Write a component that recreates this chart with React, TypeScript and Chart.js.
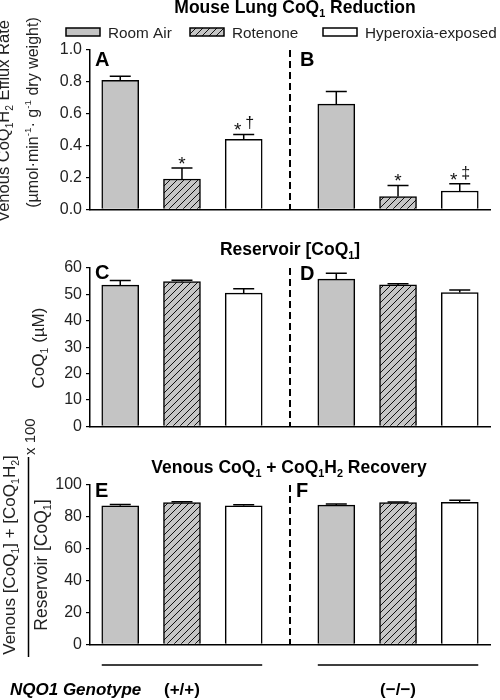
import React, { useEffect, useRef } from "react";
import { Chart, registerables } from "chart.js";

Chart.register(...registerables);

// ---------------- DATA ----------------
const treatments = ["Room Air", "Rotenone", "Hyperoxia-exposed"];
const genotypes = ["(+/+)", "(\u2212/\u2212)"];
const genotypeTitle = "NQO1 Genotype";

// Panels A/B: venous CoQ1H2 efflux rate, [ (+/+), (-/-) ]
const effluxRoomAir = [0.81, 0.66];
const effluxRoomAirErr = [0.025, 0.08];
const effluxRotenone = [0.19, 0.08];
const effluxRotenoneErr = [0.07, 0.07];
const effluxHyperoxia = [0.44, 0.115];
const effluxHyperoxiaErr = [0.03, 0.045];
const effluxRoomAirMarks = ["", ""];
const effluxRotenoneMarks = ["*", "*"];
const effluxHyperoxiaMarks = ["*\u2020", "*\u2021"];
const effluxAxis = [0, 1, 0.2];

// Panels C/D: reservoir [CoQ1] (uM)
const reservoirRoomAir = [53.5, 55.8];
const reservoirRoomAirErr = [1.8, 2.2];
const reservoirRotenone = [54.9, 53.6];
const reservoirRotenoneErr = [0.5, 0.4];
const reservoirHyperoxia = [50.5, 50.7];
const reservoirHyperoxiaErr = [1.6, 1.0];
const reservoirAxis = [0, 60, 10];

// Panels E/F: venous CoQ1 + CoQ1H2 recovery (%)
const recoveryRoomAir = [87.0, 87.4];
const recoveryRoomAirErr = [0.8, 0.7];
const recoveryRotenone = [88.9, 88.9];
const recoveryRotenoneErr = [0.6, 0.4];
const recoveryHyperoxia = [87.0, 89.1];
const recoveryHyperoxiaErr = [0.6, 1.3];
const recoveryAxis = [0, 100, 20];

const noMarks = ["", ""];

// ---------------- HELPERS ----------------
const FAMILY = '"Liberation Sans", Arial, Helvetica, sans-serif';
const GROUP_SHIFT = 3.5;
const DIVIDER = 2.75;
const BAR_W = 37;

type Seg = { t: string; s?: "sub" | "sup" };

function drawRich(
  ctx: CanvasRenderingContext2D,
  segs: Seg[],
  x: number,
  y: number,
  size: number,
  opts: { weight?: string; italic?: boolean; align?: "left" | "center" | "right"; rotate?: boolean; color?: string } = {}
) {
  const pre = `${opts.italic ? "italic " : ""}${opts.weight || "normal"}`;
  const fontFor = (sg: Seg) => `${pre} ${sg.s ? size * 0.62 : size}px ${FAMILY}`;
  ctx.save();
  ctx.translate(x, y);
  if (opts.rotate) ctx.rotate(-Math.PI / 2);
  let w = 0;
  for (const sg of segs) {
    ctx.font = fontFor(sg);
    w += ctx.measureText(sg.t).width;
  }
  const align = opts.align || "center";
  let cx = align === "center" ? -w / 2 : align === "right" ? -w : 0;
  ctx.fillStyle = opts.color || "#111";
  ctx.textAlign = "left";
  ctx.textBaseline = "alphabetic";
  for (const sg of segs) {
    ctx.font = fontFor(sg);
    const dy = sg.s === "sub" ? size * 0.24 : sg.s === "sup" ? -size * 0.42 : 0;
    ctx.fillText(sg.t, cx, dy);
    cx += ctx.measureText(sg.t).width;
  }
  ctx.restore();
}

function makeHatch(): CanvasPattern | string {
  const c = document.createElement("canvas");
  c.width = 7;
  c.height = 7;
  const g = c.getContext("2d");
  if (!g) return "#c4c4c4";
  g.fillStyle = "#c6c6c6";
  g.fillRect(0, 0, 7, 7);
  g.strokeStyle = "#111";
  g.lineWidth = 1;
  g.beginPath();
  g.moveTo(-1, 8);
  g.lineTo(8, -1);
  g.moveTo(-1, 1);
  g.lineTo(1, -1);
  g.moveTo(6, 8);
  g.lineTo(8, 6);
  g.stroke();
  return g.createPattern(c, "repeat") || "#c4c4c4";
}

type PanelSpec = {
  values: number[][];
  errors: number[][];
  marks: string[][];
  axis: number[];
  decimals: number;
  letters: string[];
  letterPos: number[][];
  height: number;
  padTop: number;
  padBottom: number;
  extra: (chart: any) => void;
};

const errorBarPlugin = {
  id: "errorBars",
  afterDatasetsDraw(chart: any) {
    const ctx: CanvasRenderingContext2D = chart.ctx;
    const ys = chart.scales.y;
    chart.data.datasets.forEach((ds: any, di: number) => {
      const meta = chart.getDatasetMeta(di);
      meta.data.forEach((bar: any, i: number) => {
        const v = ds.data[i].y;
        const e = ds.errors[i];
        const yTop = ys.getPixelForValue(v);
        const yCap = ys.getPixelForValue(v + e);
        ctx.save();
        ctx.strokeStyle = "#000";
        ctx.lineWidth = 1.5;
        ctx.beginPath();
        ctx.moveTo(bar.x, yTop);
        ctx.lineTo(bar.x, yCap);
        ctx.moveTo(bar.x - 10.5, yCap);
        ctx.lineTo(bar.x + 10.5, yCap);
        ctx.stroke();
        const mark: string = ds.marks[i] || "";
        if (mark) {
          const chars = Array.from(mark);
          ctx.fillStyle = "#111";
          ctx.textAlign = "center";
          ctx.textBaseline = "alphabetic";
          chars.forEach((ch, k) => {
            const off = chars.length === 1 ? 0 : k === 0 ? -6 : 6;
            if (ch === "*") {
              ctx.font = `normal 19px ${FAMILY}`;
              ctx.fillText(ch, bar.x + off, yCap + 2);
            } else {
              ctx.font = `normal 16px ${FAMILY}`;
              ctx.fillText(ch, bar.x + off, yCap - 6);
            }
          });
        }
        ctx.restore();
      });
    });
  },
};

function buildConfig(p: PanelSpec): any {
  const fills = ["#c4c4c4", makeHatch(), "#ffffff"];
  const datasets = treatments.map((label, t) => ({
    label,
    data: genotypes.map((_, g) => ({ x: g * GROUP_SHIFT + t, y: p.values[t][g] })),
    errors: p.errors[t],
    marks: p.marks[t],
    backgroundColor: fills[t],
    borderColor: "#000",
    borderWidth: 1.5,
    barThickness: BAR_W,
    grouped: false,
  }));
  const panelPlugin = {
    id: "panelDecor",
    afterDraw(chart: any) {
      const ctx: CanvasRenderingContext2D = chart.ctx;
      const xs = chart.scales.x;
      const area = chart.chartArea;
      // dashed divider between genotypes
      ctx.save();
      ctx.strokeStyle = "#000";
      ctx.lineWidth = 2;
      ctx.setLineDash([7, 4]);
      const dx = xs.getPixelForValue(DIVIDER);
      ctx.beginPath();
      ctx.moveTo(dx, area.top);
      ctx.lineTo(dx, area.bottom);
      ctx.stroke();
      ctx.restore();
      // panel letters
      p.letters.forEach((L, i) => {
        drawRich(ctx, [{ t: L }], p.letterPos[i][0], p.letterPos[i][1], 20, {
          weight: "bold",
          align: "left",
          color: "#000",
        });
      });
      p.extra(chart);
    },
  };
  return {
    type: "bar",
    data: { datasets },
    options: {
      animation: false,
      responsive: false,
      events: [],
      layout: { padding: { left: 0, right: 10, top: p.padTop, bottom: p.padBottom } },
      plugins: { legend: { display: false }, tooltip: { enabled: false }, title: { display: false } },
      scales: {
        x: {
          type: "linear",
          min: -0.49,
          max: 5.99,
          offset: false,
          ticks: { display: false },
          grid: { display: false },
          border: { display: true, color: "#000", width: 1.5 },
          afterFit: (s: any) => {
            s.height = 0;
          },
        },
        y: {
          min: p.axis[0],
          max: p.axis[1],
          ticks: {
            stepSize: p.axis[2],
            padding: 4,
            color: "#222",
            font: { size: 16, family: FAMILY },
            callback: (v: any) => Number(v).toFixed(p.decimals),
          },
          grid: { display: true, drawOnChartArea: false, drawTicks: true, tickLength: 4, color: "#000", lineWidth: 1.2 },
          border: { display: true, color: "#000", width: 1.5 },
          afterFit: (s: any) => {
            s.width = 90;
          },
        },
      },
    },
    plugins: [errorBarPlugin, panelPlugin],
  };
}

// ---------------- PANELS ----------------
const panelAB: PanelSpec = {
  values: [effluxRoomAir, effluxRotenone, effluxHyperoxia],
  errors: [effluxRoomAirErr, effluxRotenoneErr, effluxHyperoxiaErr],
  marks: [effluxRoomAirMarks, effluxRotenoneMarks, effluxHyperoxiaMarks],
  axis: effluxAxis,
  decimals: 1,
  letters: ["A", "B"],
  letterPos: [
    [95, 66],
    [300, 66],
  ],
  height: 232,
  padTop: 50,
  padBottom: 22.7,
  extra: (chart: any) => {
    const ctx: CanvasRenderingContext2D = chart.ctx;
    drawRich(ctx, [{ t: "Mouse Lung CoQ" }, { t: "1", s: "sub" }, { t: " Reduction" }], 295, 13, 17.5, {
      weight: "bold",
      color: "#000",
    });
    // legend from datasets
    const boxX = [66, 190, 323];
    chart.data.datasets.forEach((ds: any, i: number) => {
      ctx.save();
      ctx.fillStyle = ds.backgroundColor;
      ctx.fillRect(boxX[i], 28, 34, 8);
      ctx.strokeStyle = "#000";
      ctx.lineWidth = 1.5;
      ctx.strokeRect(boxX[i], 28, 34, 8);
      ctx.restore();
      drawRich(ctx, [{ t: ds.label }], boxX[i] + 42, 37.5, 15.3, { align: "left", color: "#222" });
    });
    drawRich(
      ctx,
      [{ t: "Venous CoQ" }, { t: "1", s: "sub" }, { t: "H" }, { t: "2", s: "sub" }, { t: " Efflux Rate" }],
      9,
      121,
      16.5,
      { rotate: true, color: "#222" }
    );
    drawRich(
      ctx,
      [{ t: "(\u00b5mol\u00b7min" }, { t: "-1", s: "sup" }, { t: "\u00b7 g" }, { t: "-1", s: "sup" }, { t: " dry weight)" }],
      37.5,
      112.5,
      16,
      { rotate: true, color: "#222" }
    );
  },
};

const panelCD: PanelSpec = {
  values: [reservoirRoomAir, reservoirRotenone, reservoirHyperoxia],
  errors: [reservoirRoomAirErr, reservoirRotenoneErr, reservoirHyperoxiaErr],
  marks: [noMarks, noMarks, noMarks],
  axis: reservoirAxis,
  decimals: 0,
  letters: ["C", "D"],
  letterPos: [
    [95, 51],
    [300, 52],
  ],
  height: 212,
  padTop: 40,
  padBottom: 12,
  extra: (chart: any) => {
    const ctx: CanvasRenderingContext2D = chart.ctx;
    drawRich(ctx, [{ t: "Reservoir [CoQ" }, { t: "1", s: "sub" }, { t: "]" }], 290, 27, 17.5, {
      weight: "bold",
      color: "#000",
    });
    drawRich(ctx, [{ t: "CoQ" }, { t: "1", s: "sub" }, { t: " (\u00b5M)" }], 44, 120, 17, {
      rotate: true,
      color: "#222",
    });
  },
};

// panel E/F canvas starts at page y = 405 (overlaps the transparent bottom of C/D)
const panelEF: PanelSpec = {
  values: [recoveryRoomAir, recoveryRotenone, recoveryHyperoxia],
  errors: [recoveryRoomAirErr, recoveryRotenoneErr, recoveryHyperoxiaErr],
  marks: [noMarks, noMarks, noMarks],
  axis: recoveryAxis,
  decimals: 0,
  letters: ["E", "F"],
  letterPos: [
    [95, 92],
    [296, 92],
  ],
  height: 295,
  padTop: 80,
  padBottom: 55.7,
  extra: (chart: any) => {
    const ctx: CanvasRenderingContext2D = chart.ctx;
    const xs = chart.scales.x;
    drawRich(
      ctx,
      [
        { t: "Venous CoQ" },
        { t: "1", s: "sub" },
        { t: " + CoQ" },
        { t: "1", s: "sub" },
        { t: "H" },
        { t: "2", s: "sub" },
        { t: " Recovery" },
      ],
      289,
      68,
      17.5,
      { weight: "bold", color: "#000" }
    );
    // y-axis title as a fraction
    drawRich(
      ctx,
      [
        { t: "Venous [CoQ" },
        { t: "1", s: "sub" },
        { t: "] + [CoQ" },
        { t: "1", s: "sub" },
        { t: "H" },
        { t: "2", s: "sub" },
        { t: "]" },
      ],
      14.5,
      150,
      17,
      { rotate: true, color: "#222" }
    );
    drawRich(ctx, [{ t: "x 100" }], 35, 50, 15, { rotate: true, align: "left", color: "#222" });
    drawRich(ctx, [{ t: "Reservoir [CoQ" }, { t: "1", s: "sub" }, { t: "]" }], 47, 160, 17.5, {
      rotate: true,
      color: "#222",
    });
    ctx.save();
    ctx.strokeStyle = "#000";
    ctx.lineWidth = 1.5;
    ctx.beginPath();
    ctx.moveTo(28.5, 52);
    ctx.lineTo(28.5, 252);
    // genotype group lines
    genotypes.forEach((_, g) => {
      const x1 = xs.getPixelForValue(g * GROUP_SHIFT) - BAR_W / 2;
      const x2 = xs.getPixelForValue(g * GROUP_SHIFT + 2) + BAR_W / 2;
      ctx.moveTo(x1, 260);
      ctx.lineTo(x2, 260);
    });
    ctx.stroke();
    ctx.restore();
    drawRich(ctx, [{ t: genotypeTitle }], 10, 290, 17, { weight: "bold", italic: true, align: "left", color: "#000" });
    genotypes.forEach((gname, g) => {
      drawRich(ctx, [{ t: gname }], xs.getPixelForValue(g * GROUP_SHIFT + 1), 290, 17, {
        weight: "bold",
        color: "#000",
      });
    });
  },
};

function Panel({ spec, top }: { spec: PanelSpec; top: number }) {
  const ref = useRef<HTMLCanvasElement>(null);
  useEffect(() => {
    if (!ref.current) return;
    const chart = new Chart(ref.current, buildConfig(spec));
    return () => chart.destroy();
  }, [spec]);
  return (
    <canvas
      ref={ref}
      width={500}
      height={spec.height}
      style={{ position: "absolute", left: 0, top, width: 500, height: spec.height, display: "block" }}
    />
  );
}

export default function App() {
  return (
    <div style={{ position: "absolute", left: 0, top: 0, width: 500, height: 700, background: "#fff" }}>
      <Panel spec={panelAB} top={0} />
      <Panel spec={panelCD} top={228} />
      <Panel spec={panelEF} top={405} />
    </div>
  );
}
